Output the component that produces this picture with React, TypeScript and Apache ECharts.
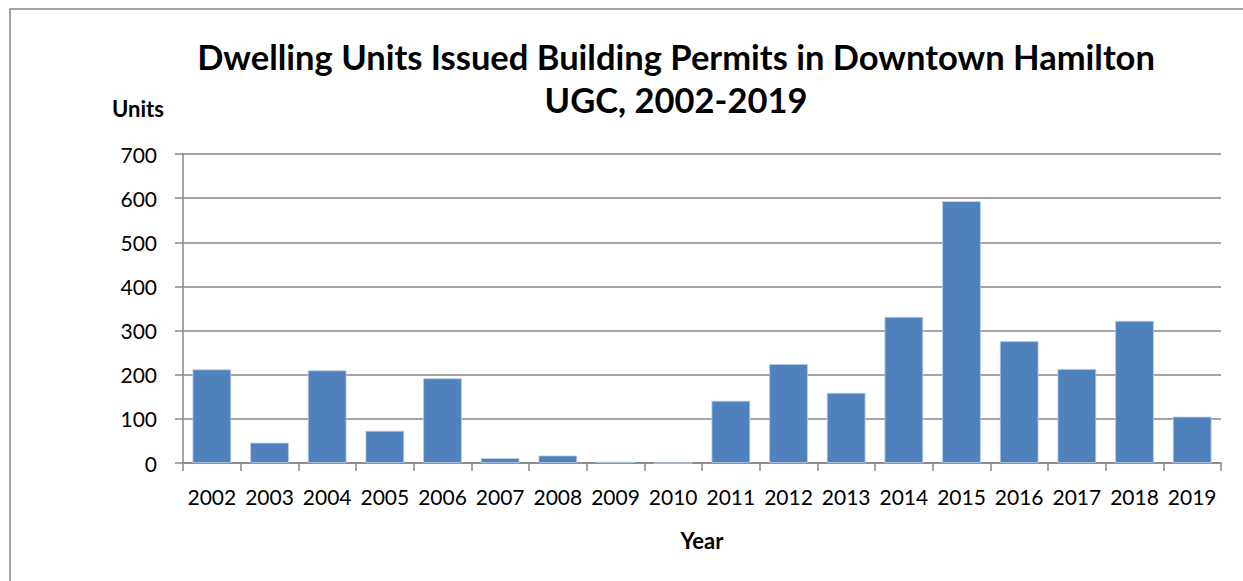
import React, { useEffect, useRef } from "react";
import * as echarts from "echarts";

const years = ["2002","2003","2004","2005","2006","2007","2008","2009","2010","2011","2012","2013","2014","2015","2016","2017","2018","2019"];
const units = [212, 46, 210, 73, 192, 11, 17, 3, 0, 141, 224, 159, 331, 593, 276, 213, 322, 105];
const titleLines = ["Dwelling Units Issued Building Permits in Downtown Hamilton", "UGC, 2002-2019"];
const yAxisTitle = "Units";
const xAxisTitle = "Year";

const FONT = "Lato, 'Open Sans', sans-serif";
const GRID = "#878787";

export default function App() {
  const ref = useRef<HTMLDivElement>(null);
  useEffect(() => {
    if (!ref.current) return;
    const chart = echarts.init(ref.current, null, { renderer: "svg" });
    chart.setOption({
      animation: false,
      backgroundColor: "#ffffff",
      title: {
        text: titleLines.join("\n"),
        left: 676,
        top: 35,
        padding: 0,
        textAlign: "center",
        textStyle: { fontFamily: FONT, fontWeight: "bold", fontSize: 34.5, lineHeight: 43, color: "#000" },
      },
      grid: { left: 183, right: 22, top: 154, bottom: 118, containLabel: false },
      xAxis: {
        type: "category",
        data: years,
        axisLine: { lineStyle: { color: GRID, width: 1.5 } },
        axisTick: { show: true, length: 8, lineStyle: { color: GRID, width: 1.5 } },
        axisLabel: { fontFamily: FONT, fontSize: 21, color: "#000", margin: 23, interval: 0 },
      },
      yAxis: {
        type: "value",
        min: 0,
        max: 700,
        interval: 100,
        axisLine: { show: true, lineStyle: { color: GRID, width: 1.5 } },
        axisTick: { show: true, length: 8, lineStyle: { color: GRID, width: 1.5 } },
        axisLabel: { fontFamily: FONT, fontSize: 21, color: "#000", margin: 26 },
        splitLine: { lineStyle: { color: GRID, width: 1.5 } },
      },
      series: [
        {
          type: "bar",
          data: units,
          barCategoryGap: "33%",
          itemStyle: { color: "#4F81BD", borderColor: "#b9cde5", borderWidth: 0.8 },
        },
      ],
      graphic: [
        {
          type: "rect",
          shape: { x: 10, y: 9, width: 1400, height: 800 },
          style: { fill: "none", stroke: GRID, lineWidth: 1.5 },
          silent: true,
        },
        {
          type: "text",
          x: 138,
          y: 108,
          style: { text: yAxisTitle, fontFamily: FONT, fontWeight: "bold", fontSize: 22, fill: "#000", textAlign: "center", textVerticalAlign: "middle" },
        },
        {
          type: "text",
          x: 702,
          y: 540,
          style: { text: xAxisTitle, fontFamily: FONT, fontWeight: "bold", fontSize: 22, fill: "#000", textAlign: "center", textVerticalAlign: "middle" },
        },
      ],
    });
    return () => chart.dispose();
  }, []);
  return <div ref={ref} style={{ position: "fixed", left: 0, top: 0, width: 1243, height: 581 }} />;
}
